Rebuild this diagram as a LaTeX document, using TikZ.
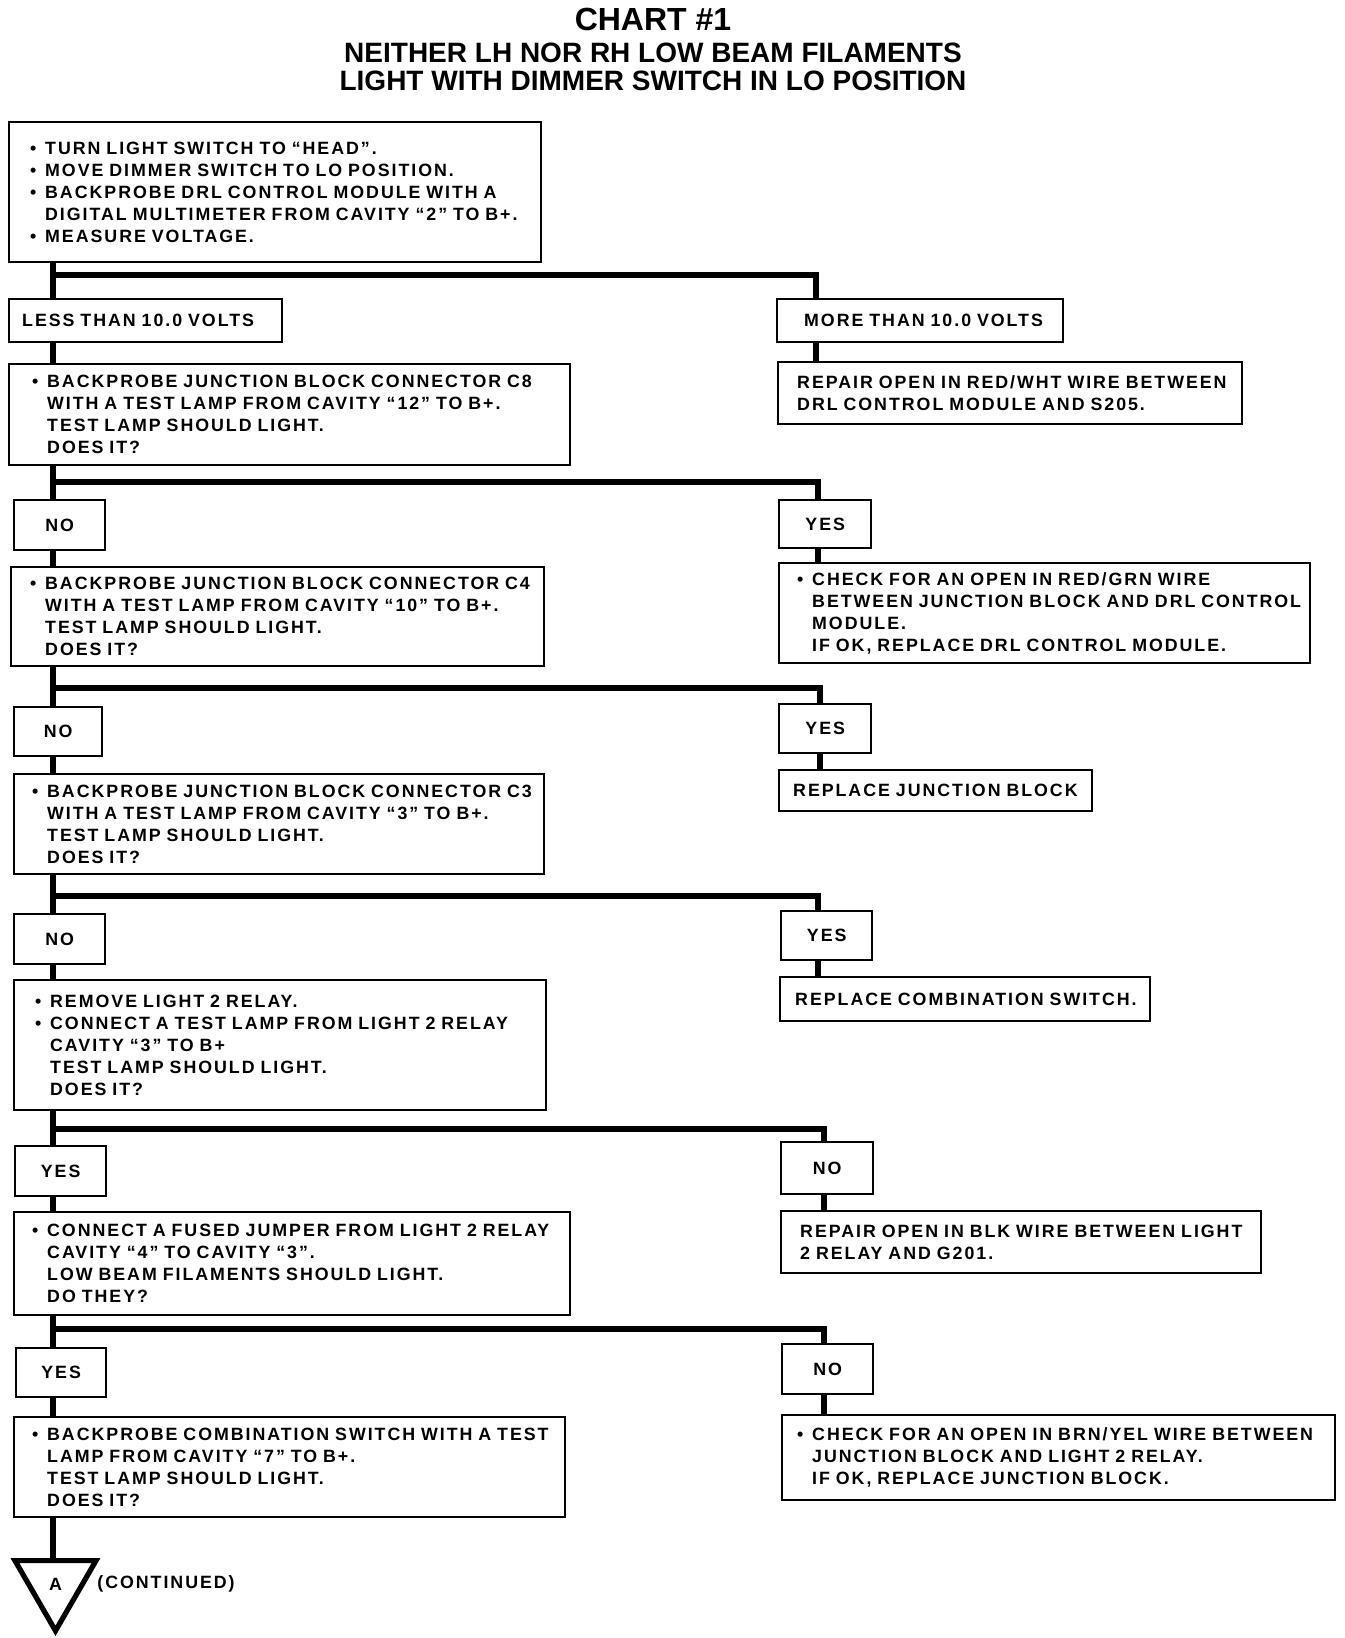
\documentclass[tikz,border=0pt]{standalone}
\usepackage{fontspec}
\setmainfont{Liberation Sans}
\newfontfamily\chartfont{Liberation Sans}[LetterSpace=11,WordSpace=1.15]
\usetikzlibrary{shapes.geometric}

\newcommand\bul{\makebox[7.5pt][l]{•}}
\newcommand\ind{\hspace*{7.5pt}}

\tikzset{
  box/.style={draw,line width=1.2pt,fill=white,anchor=north west,inner sep=0pt,align=left,
    font=\chartfont\bfseries\fontsize{8.9}{11}\selectfont},
  sz/.style 2 args={text width=#1*0.5pt,minimum height=#2*0.5pt},
  pad/.style={execute at begin node={\leftskip=\dimexpr #1pt/2\relax\rightskip=-20pt plus 1fil\relax}},
  tag/.style={box,align=center},
  wire/.style={line width=3pt},
  title/.style={anchor=base,inner sep=0pt,font=\bfseries\fontsize{#1}{#1}\selectfont},
}

\begin{document}
\begin{tikzpicture}[x=0.5pt,y=-0.5pt]
  \useasboundingbox (0,0) rectangle (1344,1638);

  % heading
  \node[title=16] (chart) at (653,30) {CHART \#1};
  \node[title=14] (head1) at (653,62) {NEITHER LH NOR RH LOW BEAM FILAMENTS};
  \node[title=14] (head2) at (653,90) {LIGHT WITH DIMMER SWITCH IN LO POSITION};

  % left column
  \node[box,sz={532}{140},pad=21] (start) at (8,121) {\bul TURN LIGHT SWITCH TO “HEAD”.\\
    \bul MOVE DIMMER SWITCH TO LO POSITION.\\
    \bul BACKPROBE DRL CONTROL MODULE WITH A\\
    \ind DIGITAL MULTIMETER FROM CAVITY “2” TO B+.\\
    \bul MEASURE VOLTAGE.};
  \node[box,sz={273}{43},pad=13] (less) at (8,298) {LESS THAN 10.0 VOLTS};
  \node[box,sz={561}{101},pad=23] (c8) at (8,363) {\bul BACKPROBE JUNCTION BLOCK CONNECTOR C8\\
    \ind WITH A TEST LAMP FROM CAVITY “12” TO B+.\\
    \ind TEST LAMP SHOULD LIGHT.\\
    \ind DOES IT?};
  \node[tag,sz={91}{50}] (no1) at (13,499) {NO};
  \node[box,sz={533}{99},pad=19] (c4) at (10,566) {\bul BACKPROBE JUNCTION BLOCK CONNECTOR C4\\
    \ind WITH A TEST LAMP FROM CAVITY “10” TO B+.\\
    \ind TEST LAMP SHOULD LIGHT.\\
    \ind DOES IT?};
  \node[tag,sz={88}{49}] (no2) at (13,706) {NO};
  \node[box,sz={530}{100},pad=18] (c3) at (13,773) {\bul BACKPROBE JUNCTION BLOCK CONNECTOR C3\\
    \ind WITH A TEST LAMP FROM CAVITY “3” TO B+.\\
    \ind TEST LAMP SHOULD LIGHT.\\
    \ind DOES IT?};
  \node[tag,sz={91}{50}] (no3) at (13,913) {NO};
  \node[box,sz={532}{130},pad=21] (relay) at (13,979) {\bul REMOVE LIGHT 2 RELAY.\\
    \bul CONNECT A TEST LAMP FROM LIGHT 2 RELAY\\
    \ind CAVITY “3” TO B+\\
    \ind TEST LAMP SHOULD LIGHT.\\
    \ind DOES IT?};
  \node[tag,sz={91}{50}] (yes4) at (14,1145) {YES};
  \node[box,sz={556}{103},pad=18] (jump) at (13,1211) {\bul CONNECT A FUSED JUMPER FROM LIGHT 2 RELAY\\
    \ind CAVITY “4” TO CAVITY “3”.\\
    \ind LOW BEAM FILAMENTS SHOULD LIGHT.\\
    \ind DO THEY?};
  \node[tag,sz={90}{49}] (yes5) at (15,1347) {YES};
  \node[box,sz={551}{100},pad=18] (comb) at (13,1416) {\bul BACKPROBE COMBINATION SWITCH WITH A TEST\\
    \ind LAMP FROM CAVITY “7” TO B+.\\
    \ind TEST LAMP SHOULD LIGHT.\\
    \ind DOES IT?};
  \node[draw,regular polygon,regular polygon sides=3,shape border rotate=180,minimum size=93.5*0.5pt,
    line width=2.6pt,inner sep=0pt,font=\chartfont\bfseries\fontsize{8.9}{11}\selectfont] (tri) at (55.5,1584) {A};
  \node[anchor=west,inner sep=0pt,font=\chartfont\bfseries\fontsize{8.9}{11}\selectfont] (cont) at (97,1584) {(CONTINUED)};

  % right column
  \node[box,sz={286}{43},pad=27] (more) at (776,298) {MORE THAN 10.0 VOLTS};
  \node[box,sz={464}{62},pad=19] (rep1) at (777,361) {REPAIR OPEN IN RED/WHT WIRE BETWEEN\\
    DRL CONTROL MODULE AND S205.};
  \node[tag,sz={92}{48}] (yes1) at (778,499) {YES};
  \node[box,sz={531}{100},pad=18] (chk1) at (778,562) {\bul CHECK FOR AN OPEN IN RED/GRN WIRE\\
    \ind BETWEEN JUNCTION BLOCK AND DRL CONTROL\\
    \ind MODULE.\\
    \ind IF OK, REPLACE DRL CONTROL MODULE.};
  \node[tag,sz={92}{49}] (yes2) at (778,703) {YES};
  \node[box,sz={313}{41},pad=14] (repjb) at (778,769) {REPLACE JUNCTION BLOCK};
  \node[tag,sz={91}{49}] (yes3) at (780,910) {YES};
  \node[box,sz={370}{44},pad=15] (repcs) at (779,976) {REPLACE COMBINATION SWITCH.};
  \node[tag,sz={92}{52}] (no4) at (780,1141) {NO};
  \node[box,sz={480}{62},pad=19] (rep2) at (780,1210) {REPAIR OPEN IN BLK WIRE BETWEEN LIGHT\\
    2 RELAY AND G201.};
  \node[tag,sz={91}{50}] (no5) at (781,1343) {NO};
  \node[box,sz={553}{85},pad=15] (chk2) at (781,1414) {\bul CHECK FOR AN OPEN IN BRN/YEL WIRE BETWEEN\\
    \ind JUNCTION BLOCK AND LIGHT 2 RELAY.\\
    \ind IF OK, REPLACE JUNCTION BLOCK.};

  % trunk and branches
  \coordinate (t) at (53,0);
  \coordinate (b1) at (816,275);
  \coordinate (b2) at (818,482);
  \coordinate (b3) at (820,688);
  \coordinate (b4) at (818,896);
  \coordinate (b5) at (824,1129);
  \coordinate (b6) at (824,1329);
  \foreach \a/\b in {start/less,less/c8,c8/no1,no1/c4,c4/no2,no2/c3,c3/no3,no3/relay,
      relay/yes4,yes4/jump,jump/yes5,yes5/comb,comb/tri}
    \draw[wire] (\a.south -| t) -- (\b.north -| t);
  \foreach \c/\l/\r in {b1/more/rep1,b2/yes1/chk1,b3/yes2/repjb,b4/yes3/repcs,b5/no4/rep2,b6/no5/chk2}{
    \draw[wire] (\c -| t) -- (\c) -- (\c |- \l.north);
    \draw[wire] (\l.south -| \c) -- (\r.north -| \c);
  }
\end{tikzpicture}
\end{document}
